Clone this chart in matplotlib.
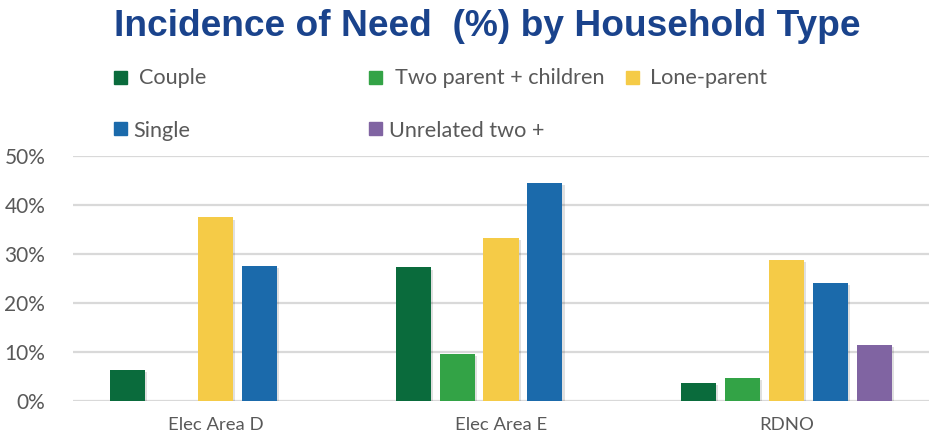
import numpy as np
import matplotlib
matplotlib.use("Agg")
import matplotlib.pyplot as plt
import matplotlib.patheffects as pe
from matplotlib.patches import Rectangle

# data (percent)
areas = ["Elec Area D", "Elec Area E", "RDNO"]
series = ["Couple", "Two parent + children", "Lone-parent", "Single", "Unrelated two +"]
couple = [6.3, 27.2, 3.6]
two_parent = [np.nan, 9.5, 4.7]
lone_parent = [37.4, 33.3, 28.7]
single = [27.5, 44.4, 24.0]
unrelated = [np.nan, np.nan, 11.4]
yticks = [0, 10, 20, 30, 40, 50]

colors = ["#0A6B3C", "#33A346", "#F5CB47", "#1B6AAB", "#8064A2"]
values = [couple, two_parent, lone_parent, single, unrelated]

txt_font = ["Lato", "DejaVu Sans"]
gray = "#595959"

fig = plt.figure(figsize=(9.32, 4.41), dpi=100)
ax = fig.add_axes([73/932, 1-400.7/441, (929-73)/932, (400.7-155.7)/441])

x = np.arange(len(areas))
step = 0.154
width = 0.123
shadow = [pe.SimplePatchShadow(offset=(1.5, -1.5), alpha=0.12, shadow_rgbFace="#000000"), pe.Normal()]
for i, (vals, c) in enumerate(zip(values, colors)):
    bars = ax.bar(x + (i - 2) * step, vals, width, color=c, zorder=3)
    for b in bars:
        b.set_path_effects(shadow)

ax.set_xlim(-0.5, 2.5)
ax.set_ylim(0, 50)
ax.set_yticks(yticks)
ax.set_yticklabels([f"{t}%" for t in yticks], family=txt_font, fontsize=15, color=gray)
ax.set_xticks(x)
ax.set_xticklabels(areas, family=txt_font, fontsize=13.3, color=gray)
ax.tick_params(axis="both", length=0)
ax.tick_params(axis="y", pad=20)
ax.tick_params(axis="x", pad=12)
ax.grid(axis="y", color="#D9D9D9", linewidth=1.6, zorder=0)
for s in ax.spines.values():
    s.set_visible(False)

fig.text(114/932, 1-36.5/441, "Incidence of Need  (%) by Household Type",
         family="Liberation Sans", fontweight="bold", fontsize=26.7, color="#1A438C",
         ha="left", va="baseline")

# legend, laid out like the original (two rows)
sq_pos = [(114, 71), (369, 71), (626, 71), (114, 122), (369, 122)]
txt_pos = [(139, 84), (395, 84), (650, 84), (133, 137), (389, 137)]
for name, c, (sx, sy), (tx, ty) in zip(series, colors, sq_pos, txt_pos):
    fig.patches.append(Rectangle((sx/932, 1-(sy+13)/441), 13/932, 13/441,
                                 transform=fig.transFigure, color=c))
    fig.text(tx/932, 1-ty/441, name, family=txt_font, fontsize=15.6, color=gray,
             ha="left", va="baseline")

fig.savefig("out.png", dpi=100)
